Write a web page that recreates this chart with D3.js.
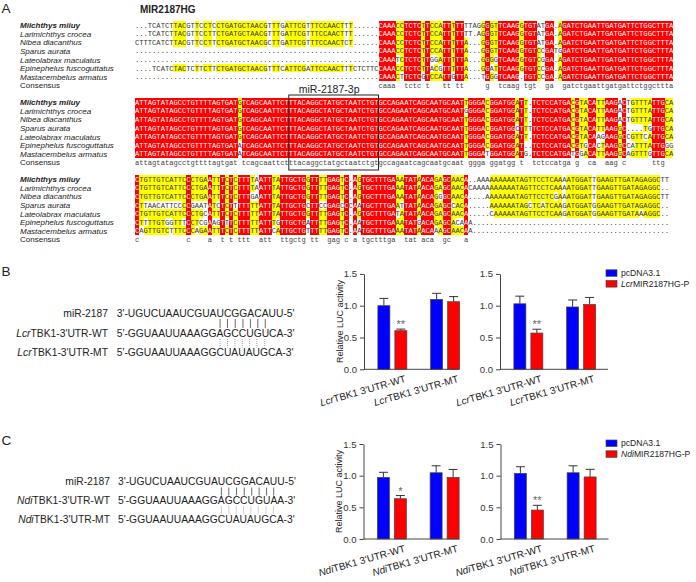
<!DOCTYPE html>
<html><head><meta charset="utf-8">
<script src="https://cdn.jsdelivr.net/npm/d3@7/dist/d3.min.js"></script>
<style>html,body{margin:0;padding:0;background:#fff;} svg{display:block}</style>
</head><body>
<svg id="fig" width="696" height="582"></svg>
<script>
// ================= DATA =================
const species = ["Miichthys miiuy","Larimichthys crocea","Nibea diacanthus","Sparus aurata",
  "Lateolabrax maculatus","Epinephelus fuscoguttatus","Mastacembelus armatus"];
const consensusLabel = "Consensus";
const geneTitle = "MIR2187HG";

const alignBlock1 = [
  "...TCATCTTACGTTCCTCCTGATGCTAACGTTTGATTCGTTTCCAACTTT......CAAACCTCTCTTCCATTTTTTTAGGGGTTCAAGGTGTATGA.AGATCTGAATTGATGATTCTGGCTTTA",
  "...TCATCTTACGTTCCTTCTGATGCTAACGTTTGATTCGTTTCCAACTTT......CAAACCTCTCTTCCATTTTTTT.AGGGTTCAAGGTGTATGA.AGATCTGAATTGATGATTCTGGCTTTA",
  "CTTTCATCTTACGTTCCTTCTGATGCTAACGCTTGATTCGTTTCCAACTCT......CAAACCTCTCTTCCATTTTTA...GGGTTCAAGGTGTATGA.AGATCTGAATTGATGATTCTGGCTTTA",
  ".........................................................CAAACCTCTCTTCCATTTTTA...GGGTTCAAGGTGTCCGATGGATCTGAATTGATGATTCTGGCTTTA",
  ".........................................................CAAATCTCTCTTGGATTTTTA...GGGGTCAAGGTGTCGGA.AGATCTGAATTGATGATTCTGGCTTTA",
  "....TCATCTACTCTTCTTCTGATGCTAACGTTTCATTCGATTCCAACTTTCTCTTCCAAACCTCTCTTACGTTTTTA...GGATTCAAGGTGTCCGA.AGATCTGAATTGATGATTCTGGCTTTA",
  ".........................................................CAAACTTCTCGTCCATTGTTA...TGGGTCAAG.TGTCCGA.AGATCTGAATTGATGATTCTGGCTTTA"
];
const alignBlock2 = [
  "ATTAGTATAGCCTGTTTTAGTGATGTCAGCAATTCTTTACAGGCTATGCTAATCTGTGCCAGAATCAGCAATGCAATTGGGACGGATGGATT.TCTCCATGACGTACATTAAGACTGTTTATTGCA",
  "ATTAGTATAGCCTGTTTTAGTGATGTCAGCAATTCTTTACAGGCTATGCTAATCTGTGCCAGAATCAGCAATGCAATGGGGACGGATGGATT.TCTCCATGACGTACATTAAGACTGTTTATTGCA",
  "ATTAGTATAGCCTGTTTTAGTGATGTCAGCAATTCTTTACAGGCTATGCTAATCTGTGCCAGAATCAGCAATGCAATTGGGACGGATGGATT.TCTCCATGACGTACATTAAGACTGTTTATTGCA",
  "ATTAGTATAGCCTGTTTTAGTGATGTCAGCAATTCTTTACAGGCTATGCTAATCTGTGCCAGAATCAGCAATGCAATTGGGACGGATGGCTTTTCTCCATGACGTACATTAAGGC....TGTTGCA",
  "ATTAGTATAGCCTGTTTTAGTGATGTCAGCAATTCTTTACAGGCTATGCTAATCTGTGCCAGAATCAGCAATGCAATTGGGACGGATGGATT.TCTCCATGACGTACAAGAAGGCCGTTCATTGCA",
  "ATTAGTATAGCCTGTTTTAGTGATATCAGCAATTCTTTACAGGCTATGCTAATCTGTGCCAGAATCAGCAATGCAATTGGGACGGATGGAT..TCTCCATGACGTGCACTAAGGCCATTTATTGGG",
  "ATTAGTATAGCCTGTTTTAGTGATATCAGCAATTCTTTACAGGCTATGCTAATCTGTGCCAGAATCAGCAATGCAATTGGGATGGATGGATG.TCTCCATGATGGACATTAAGGCAGTTTGTTGCA"
];
const alignBlock3 = [
  "CTGTTGTCATTCCCTGAATTTCTCTTTTAATTTATTGCTGGTTTTGAGTC.AGTGCTTTGAAATATAACAGAGCAACA..AAAAAAAAATAGTTCCTCAAAATGGATTGAAGTTGATAGAGGCTT",
  "CTGTTGTCATTCCCTGAATTTCTCTTTTAATTTATTGCTGGTTTTGAGTC.AGTGCTTTGAAATATAACAGAGCAACACAAAAAAAAAATAGTTCCTCAAAATGGATTGAAGTTGATAGAGGC..",
  "CTGTTGTCATTCCCTGAATTTCTCTTTGAATTTATTGCTGGTTTTGAGTC.AGTGCTTTGAAATATAACAGGGCAACA....AAAAAAATAGTTCCTCGAAATGGATTGAAGTTGATAGAGGCTT",
  "CTTAACATTCCCCGAATATCTCTTTTTTTATTTATTGCTGCTTCCGAGCCCAATGCTTTGAATTATAACAGAGCCACA.....AAAAAATAGCTCATCAAGATGGATGGAAGTTGATAGAGGC..",
  "CTGTTGTCATTCCCTGCATTTCTCTTTTTATTTATTGCTGGTTTTGAGTC.AGTGCTTTGATATATAACAGAGCAACA.....CAAAAATAGTTCCTCAAGATGGATGGAAGTTGATAAAGGC..",
  "CTTTTGTGGTTTCCTCGAAGTTTCTTTTTATTTGTTGCTGATTTTGAGTC.AATGCTTTGAAATATGACAGAGCACAAA..............................................",
  "CAGTTGTCTTTCCCAGAATTTCTCTTTTTATTCATTGCTGTTTTTGAGTC.AATGCTTTGAAATATAACAAAGCAACAA.............................................."
];
const mirBoxLabel = "miR-2187-3p";
const mirBoxCols = [36, 56];

const mir2187 = "3'-UGUCUAAUCGUAUCGGACAUU-5'";
const lcrWT = "5'-GGUAAUUAAAGGAGCCUGUCA-3'";
const lcrMT = "5'-GGUAAUUAAAGGCUAUAUGCA-3'";
const ndiWT = "5'-GGUAAUUAAAGGAGCCUGUAA-3'";
const ndiMT = "5'-GGUAAUUAAAGGCUAUAUGCA-3'";
const lcrPairIdx = [15,16,17,18,19,20,21];
const ndiPairIdx = [15,16,17,18,19,20,21,22];

const groups = ["WT","MT"];
const seriesNames = ["pcDNA3.1","MIR2187HG-P"];
const yTicks = [0, 0.5, 1.0, 1.5];

const lcr1_pc = [1.00, 1.10],  lcr1_pcErr = [0.115, 0.095];
const lcr1_mir = [0.607, 1.063], lcr1_mirErr = [0.025, 0.08];
const lcr2_pc = [1.03, 0.98],  lcr2_pcErr = [0.12, 0.11];
const lcr2_mir = [0.57, 1.02], lcr2_mirErr = [0.06, 0.11];
const ndi1_pc = [0.973, 1.046], ndi1_pcErr = [0.08, 0.11];
const ndi1_mir = [0.636, 0.973], ndi1_mirErr = [0.05, 0.125];
const ndi2_pc = [1.036, 1.046], ndi2_pcErr = [0.105, 0.11];
const ndi2_mir = [0.457, 0.98], ndi2_mirErr = [0.075, 0.12];
const sigLcr1 = "**", sigLcr2 = "**", sigNdi1 = "*", sigNdi2 = "**";

// ================= DRAWING =================
const svg = d3.select("#fig");
const SANS = "'Liberation Sans', Arial, Helvetica, sans-serif";
const MONO = "'Liberation Mono', 'Courier New', monospace";
const RED = "#ff0000", YEL = "#ffff00", BLUE = "#0000ff", INK = "#222";

// panel letters
[["A", 1.5, 12.5], ["B", 1.5, 275.5], ["C", 1.5, 444.5]].forEach(([t, x, y]) =>
  svg.append("text").attr("x", x).attr("y", y).attr("font-family", SANS)
     .attr("font-size", 13.5).attr("fill", INK).text(t));

// ---------- Panel A : alignment ----------
const nCols = 126, colW = 4.272, rowH = 8.56;
const colX = d3.scaleLinear().domain([0, nCols]).range([135, 135 + nCols * colW]);
const blockTop = d3.scaleLinear().domain([0, 1]).range([21, 21 + 9 * rowH]);

svg.append("text").attr("x", 140).attr("y", 13).attr("font-family", SANS)
  .attr("font-weight", "bold").attr("font-size", 10).attr("fill", INK).text(geneTitle);

function drawBlock(seqs, b) {
  const top = blockTop(b);
  const g = svg.append("g");
  const n = d3.max(seqs, s => s.length);
  const lvl = seqs.map(() => []);
  const cons = [];
  for (let j = 0; j < n; j++) {
    const col = seqs.map(s => s[j] || ".");
    const counts = d3.rollup(col.filter(c => c !== "."), v => v.length, c => c);
    let best = null, bc = 0;
    counts.forEach((v, k) => { if (v > bc) { bc = v; best = k; } });
    const level = bc === seqs.length ? 2 : (bc >= 4 ? 1 : 0);
    cons.push(level === 2 ? best.toLowerCase() : " ");
    col.forEach((c, i) => lvl[i][j] = (level > 0 && c === best) ? level : 0);
  }
  // labels
  species.forEach((sp, i) => g.append("text").attr("x", 20).attr("y", top + i * rowH + rowH / 2 + 3)
    .attr("font-family", SANS).attr("font-size", 8).attr("font-style", "italic")
    .attr("font-weight", i === 0 ? "bold" : "normal").attr("fill", INK).text(sp));
  g.append("text").attr("x", 20).attr("y", top + 7 * rowH + rowH / 2 + 3)
    .attr("font-family", SANS).attr("font-size", 8).attr("fill", INK).text(consensusLabel);
  // highlight cells
  seqs.forEach((s, i) => {
    const y = top + i * rowH;
    let j = 0;
    while (j < n) {
      const c = lvl[i][j]; let k = j;
      while (k < n && lvl[i][k] === c) k++;
      if (c > 0) g.append("rect").attr("x", colX(j)).attr("y", y)
        .attr("width", colX(k) - colX(j)).attr("height", rowH)
        .attr("fill", c === 2 ? RED : YEL).attr("shape-rendering", "crispEdges");
      j = k;
    }
  });
  // letters
  seqs.forEach((s, i) => {
    const y = top + i * rowH + rowH / 2 + 2.5;
    const t = g.append("text").attr("y", y).attr("font-family", MONO).attr("font-size", 7.1)
      .attr("text-anchor", "middle");
    let j = 0;
    while (j < n) {
      const w = lvl[i][j] === 2; let k = j;
      while (k < n && (lvl[i][k] === 2) === w) k++;
      t.append("tspan").attr("x", d3.range(j, k).map(q => (colX(q) + colW / 2).toFixed(2)).join(" "))
        .attr("fill", w ? "#fff" : "#333").text(s.slice(j, k));
      j = k;
    }
  });
  // consensus
  const ct = g.append("text").attr("y", top + 7 * rowH + rowH / 2 + 2.5).attr("font-family", MONO)
    .attr("font-size", 7.1).attr("text-anchor", "middle").attr("fill", "#444");
  let j = 0;
  while (j < n) {
    if (cons[j] === " ") { j++; continue; }
    let k = j; while (k < n && cons[k] !== " ") k++;
    ct.append("tspan").attr("x", d3.range(j, k).map(q => (colX(q) + colW / 2).toFixed(2)).join(" "))
      .text(cons.slice(j, k).join(""));
    j = k;
  }
}
[alignBlock1, alignBlock2, alignBlock3].forEach((blk, b) => drawBlock(blk, b));

// miR-2187-3p box
svg.append("rect").attr("x", colX(mirBoxCols[0])).attr("y", 95)
  .attr("width", colX(mirBoxCols[1] + 1) - colX(mirBoxCols[0])).attr("height", 75)
  .attr("fill", "none").attr("stroke", "#222").attr("stroke-width", 1);
svg.append("text").attr("x", colX(mirBoxCols[0]) + 10).attr("y", 93).attr("font-family", SANS)
  .attr("font-size", 10.5).attr("fill", INK).text(mirBoxLabel);

// ---------- Duplexes ----------
function drawDuplex(cfg) {
  const g = svg.append("g").attr("font-family", SANS).attr("font-size", 10.3).attr("fill", INK);
  g.append("text").attr("x", cfg.labelX).attr("y", cfg.yMir).attr("text-anchor", "end").text("miR-2187");
  const lab = (y, suffix) => {
    const t = g.append("text").attr("x", cfg.labelX).attr("y", y).attr("text-anchor", "end");
    t.append("tspan").attr("font-style", "italic").text(cfg.prefix);
    t.append("tspan").text("TBK1-3'UTR-" + suffix);
  };
  lab(cfg.yWT, "WT"); lab(cfg.yMT, "MT");
  const tm = g.append("text").attr("x", cfg.seqX).attr("y", cfg.yMir).text(mir2187).node();
  const tw = g.append("text").attr("x", cfg.seqX).attr("y", cfg.yWT).text(cfg.wt).node();
  const tt = g.append("text").attr("x", cfg.seqX).attr("y", cfg.yMT).text(cfg.mt).node();
  const cx = (node, i) => { const r = node.getExtentOfChar(i); return r.x + r.width / 2; };
  cfg.pairs.forEach(i => {
    const x1 = (cx(tm, i) + cx(tw, i)) / 2;
    g.append("line").attr("x1", x1).attr("x2", x1).attr("y1", cfg.yMir + 2.5).attr("y2", cfg.yWT - 8.5)
      .attr("stroke", "#444").attr("stroke-width", 0.8);
    const x2 = (cx(tw, i) + cx(tt, i)) / 2;
    g.append("line").attr("x1", x2).attr("x2", x2).attr("y1", cfg.yWT + 2.5).attr("y2", cfg.yMT - 8.5)
      .attr("stroke", "#888").attr("stroke-width", 0.8).attr("stroke-dasharray", "1,1");
  });
}
drawDuplex({labelX: 108, seqX: 116.7, yMir: 316.5, yWT: 336.5, yMT: 356, prefix: "Lcr", wt: lcrWT, mt: lcrMT, pairs: lcrPairIdx});
drawDuplex({labelX: 110, seqX: 118, yMir: 485, yWT: 504, yMT: 522.7, prefix: "Ndi", wt: ndiWT, mt: ndiMT, pairs: ndiPairIdx});

// ---------- Bar charts ----------
function drawChart(cfg) {
  const y = d3.scaleLinear().domain([0, 1.5]).range([cfg.y0, cfg.y0 - cfg.yLen]);
  const x0 = d3.scaleBand().domain(groups).range([cfg.axisX + 2, cfg.axisX + 107.5]);
  const bw = x0.bandwidth();
  const x1 = d3.scaleBand().domain(seriesNames).range([bw / 2 - 14.5, bw / 2 + 14.5]).paddingInner(0.294);
  const g = svg.append("g");
  const data = groups.flatMap((grp, gi) => [
    {grp, s: seriesNames[0], v: cfg.pc[gi], e: cfg.pcErr[gi], c: BLUE},
    {grp, s: seriesNames[1], v: cfg.mir[gi], e: cfg.mirErr[gi], c: RED}]);
  data.forEach(d => {
    const xl = x0(d.grp) + x1(d.s), w = x1.bandwidth(), xc = xl + w / 2;
    g.append("line").attr("x1", xc).attr("x2", xc).attr("y1", y(d.v)).attr("y2", y(d.v + d.e))
      .attr("stroke", "#333").attr("stroke-width", 1);
    g.append("line").attr("x1", xc - 4.5).attr("x2", xc + 4.5).attr("y1", y(d.v + d.e)).attr("y2", y(d.v + d.e))
      .attr("stroke", "#333").attr("stroke-width", 1);
    g.append("rect").attr("x", xl).attr("y", y(d.v)).attr("width", w).attr("height", y(0) - y(d.v))
      .attr("fill", d.c).attr("stroke", "#444").attr("stroke-width", 0.7);
  });
  // significance
  const sx = x0(groups[0]) + x1(seriesNames[1]) + x1.bandwidth() / 2;
  g.append("text").attr("x", sx).attr("y", y(cfg.mir[0] + cfg.mirErr[0]) - 1).attr("text-anchor", "middle")
    .attr("font-family", SANS).attr("font-size", 11).attr("fill", "#666").text(cfg.sig);
  // axes
  const ax = g.append("g").attr("transform", `translate(${cfg.axisX},0)`)
    .call(d3.axisLeft(y).tickValues(yTicks).tickFormat(d3.format(".1f")).tickSize(4).tickSizeOuter(0).tickPadding(3));
  ax.selectAll("path,line").attr("stroke", "#444").attr("stroke-width", 1);
  ax.selectAll("text").attr("font-family", SANS).attr("font-size", 9.5).attr("fill", "#333");
  g.append("line").attr("x1", cfg.axisX).attr("x2", cfg.axisX + cfg.xLen).attr("y1", y(0)).attr("y2", y(0))
    .attr("stroke", "#444").attr("stroke-width", 1);
  // x labels
  groups.forEach(grp => {
    const px = x0(grp) + bw / 2 + 14, py = y(0) + 12.5;
    const t = g.append("text").attr("transform", `translate(${px},${py}) rotate(-16)`).attr("text-anchor", "end")
      .attr("font-family", SANS).attr("font-size", 10).attr("fill", INK);
    t.append("tspan").attr("font-style", "italic").text(cfg.prefix);
    t.append("tspan").text("TBK1 3'UTR-" + grp);
  });
  if (cfg.yLabel) {
    g.append("text").attr("transform", `translate(${cfg.axisX - 21.5},${y(0.75)}) rotate(-90)`)
      .attr("text-anchor", "middle").attr("font-family", SANS).attr("font-size", 9).attr("fill", INK)
      .text("Relative LUC activity");
  }
}
drawChart({axisX: 364, y0: 369.3, yLen: 95.4, xLen: 95, pc: lcr1_pc, pcErr: lcr1_pcErr, mir: lcr1_mir, mirErr: lcr1_mirErr, sig: sigLcr1, prefix: "Lcr", yLabel: true});
drawChart({axisX: 500, y0: 369.3, yLen: 95.4, xLen: 108, pc: lcr2_pc, pcErr: lcr2_pcErr, mir: lcr2_mir, mirErr: lcr2_mirErr, sig: sigLcr2, prefix: "Lcr", yLabel: false});
drawChart({axisX: 363.5, y0: 539, yLen: 95, xLen: 96, pc: ndi1_pc, pcErr: ndi1_pcErr, mir: ndi1_mir, mirErr: ndi1_mirErr, sig: sigNdi1, prefix: "Ndi", yLabel: true});
drawChart({axisX: 500.5, y0: 539, yLen: 95, xLen: 108, pc: ndi2_pc, pcErr: ndi2_pcErr, mir: ndi2_mir, mirErr: ndi2_mirErr, sig: sigNdi2, prefix: "Ndi", yLabel: false});

// ---------- Legends ----------
function drawLegend(x, y, prefix) {
  const g = svg.append("g").attr("font-family", SANS).attr("font-size", 8.6).attr("fill", INK);
  [[BLUE, null, seriesNames[0]], [RED, prefix, seriesNames[1]]].forEach(([c, pre, name], i) => {
    const yy = y + i * 10.8;
    g.append("rect").attr("x", x).attr("y", yy).attr("width", 11).attr("height", 6.5)
      .attr("fill", c).attr("stroke", "#444").attr("stroke-width", 0.7);
    const t = g.append("text").attr("x", x + 15).attr("y", yy + 6.3);
    if (pre) t.append("tspan").attr("font-style", "italic").text(pre);
    t.append("tspan").text(name);
  });
}
drawLegend(606, 269.8, "Lcr");
drawLegend(606, 440, "Ndi");
</script>
</body></html>
